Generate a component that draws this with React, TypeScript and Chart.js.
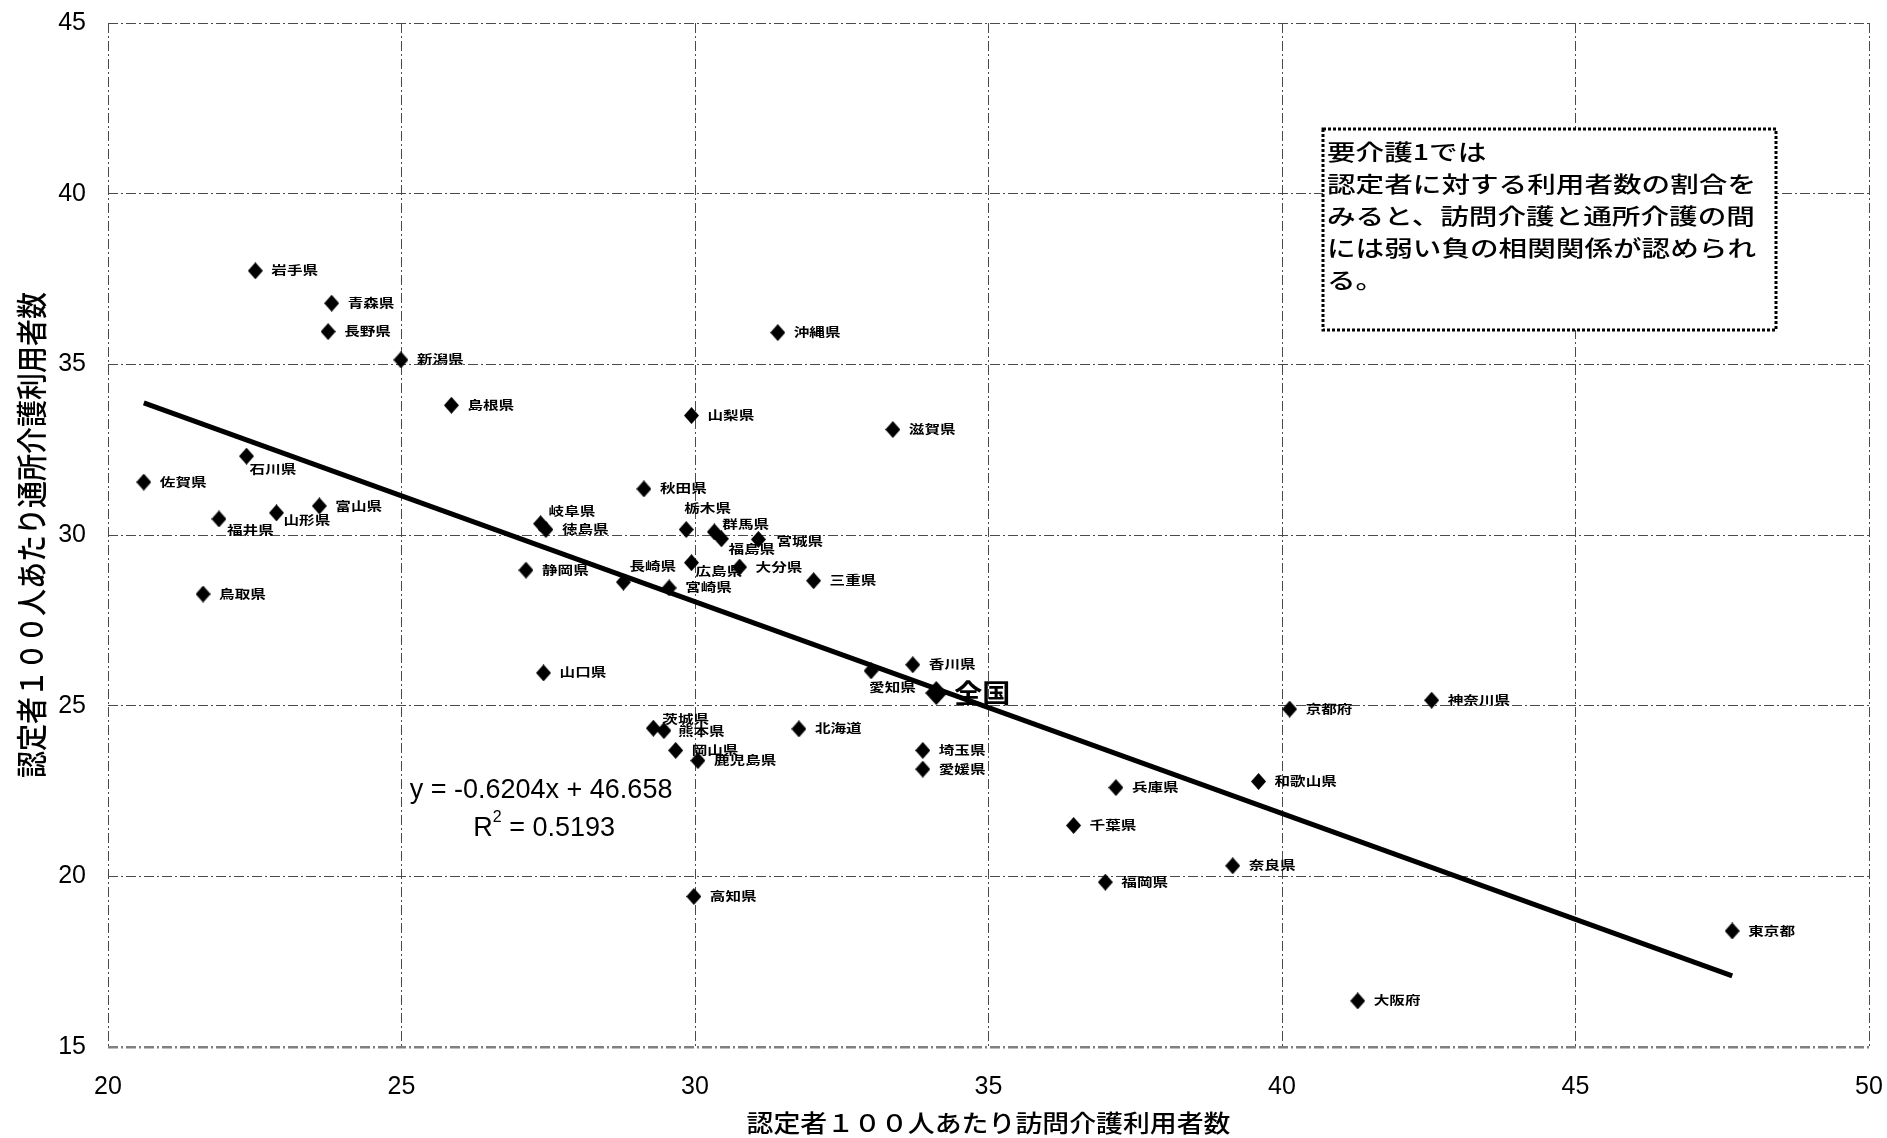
import { useEffect, useRef } from "react";
import { Chart, registerables } from "chart.js";

Chart.register(...registerables);

// Prefecture names with their per-100-certified user counts
const PREFECTURES = [
  "北海道", "青森県", "岩手県", "宮城県", "秋田県", "山形県", "福島県", "茨城県", "栃木県", "群馬県",
  "埼玉県", "千葉県", "東京都", "神奈川県", "新潟県", "富山県", "石川県", "福井県", "山梨県", "長野県",
  "岐阜県", "静岡県", "愛知県", "三重県", "滋賀県", "京都府", "大阪府", "兵庫県", "奈良県", "和歌山県",
  "鳥取県", "島根県", "岡山県", "広島県", "山口県", "徳島県", "香川県", "愛媛県", "高知県", "福岡県",
  "佐賀県", "長崎県", "熊本県", "大分県", "宮崎県", "鹿児島県", "沖縄県",
];

// 訪問介護利用者数 (per 100 certified persons)
const HOME_VISIT = [
  31.77, 23.81, 22.51, 31.08, 29.13, 22.87, 30.45, 29.29, 29.85, 30.33,
  33.88, 36.45, 47.67, 42.55, 24.99, 23.60, 22.36, 21.89, 29.94, 23.75,
  27.37, 27.12, 33.00, 32.02, 33.37, 40.13, 41.29, 37.17, 39.16, 39.60,
  21.62, 25.85, 29.67, 29.94, 27.42, 27.46, 33.71, 33.88, 29.98, 36.99,
  20.61, 28.78, 29.47, 30.76, 29.56, 30.05, 31.41,
];

// 通所介護利用者数 (per 100 certified persons)
const DAY_CARE = [
  24.32, 36.79, 37.74, 29.87, 31.35, 30.65, 29.89, 24.34, 30.16, 30.09,
  23.69, 21.49, 18.40, 25.16, 35.13, 30.85, 32.31, 30.47, 33.50, 35.96,
  30.33, 28.97, 26.02, 28.66, 33.09, 24.90, 16.35, 22.60, 20.31, 22.78,
  28.27, 33.80, 23.69, 29.19, 25.96, 30.16, 26.20, 23.14, 19.41, 19.83,
  31.55, 28.62, 24.27, 29.06, 28.45, 23.39, 35.93,
];

const NATIONAL_NAME = "全国";
const NATIONAL_HOME_VISIT = [34.11];
const NATIONAL_DAY_CARE = [25.37];

const X_TICKS = [20, 25, 30, 35, 40, 45, 50];
const Y_TICKS = [15, 20, 25, 30, 35, 40, 45];

const TREND_SLOPE = -0.6204;
const TREND_INTERCEPT = 46.658;
const R_SQUARED = "0.5193";

const X_TITLE = "認定者１００人あたり訪問介護利用者数";
const Y_TITLE = "認定者１００人あたり通所介護利用者数";

const NOTE_LINES = [
  "要介護1では",
  "認定者に対する利用者数の割合を",
  "みると、訪問介護と通所介護の間",
  "には弱い負の相関関係が認められ",
  "る。",
];

// label placement tweaks (pixels from the marker centre); default is to the right
const LABEL_OFFSETS: Record<string, [number, number]> = {
  "石川県": [3, 13],
  "山形県": [7, 8],
  "福井県": [8, 11],
  "岐阜県": [8, -12],
  "長崎県": [6, -16],
  "栃木県": [-2, -21],
  "群馬県": [8, -7],
  "福島県": [7, 11],
  "広島県": [4, 9],
  "愛知県": [-2, 17],
  "茨城県": [9, -9],
  "熊本県": [14, 1],
  "宮城県": [18, 2],
};

const JP = "'Noto Sans CJK JP', 'Noto Sans CJK SC', sans-serif";
const LATIN = "'Liberation Sans', Arial, sans-serif";

function diamond(w: number, h: number): HTMLCanvasElement {
  const c = document.createElement("canvas");
  c.width = w;
  c.height = h;
  const g = c.getContext("2d")!;
  g.fillStyle = "#000";
  g.beginPath();
  g.moveTo(w / 2, 0);
  g.lineTo(w, h / 2);
  g.lineTo(w / 2, h);
  g.lineTo(0, h / 2);
  g.closePath();
  g.fill();
  return c;
}

function drawText(
  ctx: CanvasRenderingContext2D,
  text: string,
  x: number,
  y: number,
  font: string,
  sx = 1,
  align: CanvasTextAlign = "left"
) {
  ctx.save();
  ctx.translate(x, y);
  ctx.scale(sx, 1);
  ctx.font = font;
  ctx.textAlign = align;
  ctx.textBaseline = "middle";
  ctx.fillStyle = "#000";
  ctx.fillText(text, 0, 0);
  ctx.restore();
}

const annotationPlugin = {
  id: "prefAnnotations",
  afterDatasetsDraw(chart: any) {
    const ctx: CanvasRenderingContext2D = chart.ctx;
    const xs = chart.scales.x;
    const ys = chart.scales.y;

    // prefecture labels
    const meta = chart.getDatasetMeta(1);
    meta.data.forEach((el: any, i: number) => {
      const name = PREFECTURES[i];
      const [dx, dy] = LABEL_OFFSETS[name] ?? [16, 0];
      drawText(ctx, name, el.x + dx, el.y + dy, `bold 12px ${JP}`, 1.3);
    });

    // national average label
    const nat = chart.getDatasetMeta(2).data[0];
    if (nat) drawText(ctx, NATIONAL_NAME, nat.x + 18, nat.y, `bold 26px ${JP}`, 1.08);

    // regression equation
    const eqX = xs.getPixelForValue(25.14);
    const eqY = ys.getPixelForValue(22.51);
    const sign = TREND_SLOPE < 0 ? "-" : "+";
    drawText(
      ctx,
      `y = ${sign}${Math.abs(TREND_SLOPE)}x + ${TREND_INTERCEPT}`,
      eqX,
      eqY,
      `27px ${LATIN}`
    );

    // R squared, centred below the equation
    const rcx = xs.getPixelForValue(27.43);
    const rcy = ys.getPixelForValue(21.39);
    ctx.save();
    ctx.font = `27px ${LATIN}`;
    const wR = ctx.measureText("R").width;
    const wRest = ctx.measureText(` = ${R_SQUARED}`).width;
    ctx.font = `16px ${LATIN}`;
    const w2 = ctx.measureText("2").width;
    ctx.restore();
    const startX = rcx - (wR + w2 + wRest) / 2;
    drawText(ctx, "R", startX, rcy, `27px ${LATIN}`);
    drawText(ctx, "2", startX + wR, rcy - 11, `16px ${LATIN}`);
    drawText(ctx, ` = ${R_SQUARED}`, startX + wR + w2, rcy, `27px ${LATIN}`);

    // note box
    const bx0 = Math.round(xs.getPixelForValue(40.7));
    const bx1 = Math.round(xs.getPixelForValue(48.42));
    const by0 = Math.round(ys.getPixelForValue(41.88));
    const by1 = Math.round(ys.getPixelForValue(36.0));
    ctx.save();
    ctx.fillStyle = "#fff";
    ctx.fillRect(bx0, by0, bx1 - bx0, by1 - by0);
    ctx.strokeStyle = "#000";
    ctx.lineWidth = 3;
    ctx.setLineDash([3, 2]);
    ctx.strokeRect(bx0, by0, bx1 - bx0, by1 - by0);
    ctx.restore();
    NOTE_LINES.forEach((line, i) => {
      drawText(ctx, line, bx0 + 4, by0 + 23 + i * 32, `500 22px ${JP}`, 1.3);
    });
  },
  afterDraw(chart: any) {
    const ctx: CanvasRenderingContext2D = chart.ctx;
    const area = chart.chartArea;
    // x axis title
    drawText(ctx, X_TITLE, (area.left + area.right) / 2, 1123, `500 24px ${JP}`, 1.12, "center");
    // y axis title (rotated)
    ctx.save();
    ctx.translate(31, (area.top + area.bottom) / 2);
    ctx.rotate(-Math.PI / 2);
    ctx.scale(1, 1.15);
    ctx.font = `500 27px ${JP}`;
    ctx.textAlign = "center";
    ctx.textBaseline = "middle";
    ctx.fillStyle = "#000";
    ctx.fillText(Y_TITLE, 0, 0);
    ctx.restore();
  },
};

export default function App() {
  const canvasRef = useRef<HTMLCanvasElement | null>(null);

  useEffect(() => {
    const canvas = canvasRef.current;
    if (!canvas) return;

    const xMin = Math.min(...HOME_VISIT);
    const xMax = Math.max(...HOME_VISIT);
    const trend = [
      { x: xMin, y: TREND_SLOPE * xMin + TREND_INTERCEPT },
      { x: xMax, y: TREND_SLOPE * xMax + TREND_INTERCEPT },
    ];

    const prefPoints = PREFECTURES.map((_, i) => ({ x: HOME_VISIT[i], y: DAY_CARE[i] }));
    const natPoints = NATIONAL_HOME_VISIT.map((x, i) => ({ x, y: NATIONAL_DAY_CARE[i] }));

    const tickFont = { family: LATIN, size: 25 };
    const gridColor = (c: any) => (c.tick && c.tick.value === 15 ? "#808080" : "#4a4a4a");
    const gridWidth = (c: any) => (c.tick && c.tick.value === 15 ? 2.5 : 1);

    const chart = new Chart(canvas, {
      type: "scatter",
      data: {
        datasets: [
          {
            type: "line",
            label: "trend",
            data: trend,
            borderColor: "#000",
            borderWidth: 5,
            pointRadius: 0,
            fill: false,
            order: 0,
          },
          {
            label: "prefectures",
            data: prefPoints,
            pointStyle: diamond(15, 17) as any,
            backgroundColor: "#000",
            borderColor: "#000",
            order: 1,
          },
          {
            label: "national",
            data: natPoints,
            pointStyle: diamond(22, 24) as any,
            backgroundColor: "#000",
            borderColor: "#000",
            order: 1,
          },
        ],
      },
      options: {
        responsive: false,
        animation: false,
        events: [],
        layout: { autoPadding: false, padding: { left: 0, top: 23, right: 18, bottom: 0 } },
        plugins: {
          legend: { display: false },
          tooltip: { enabled: false },
          title: { display: false },
        },
        scales: {
          x: {
            type: "linear",
            min: 20,
            max: 50,
            afterBuildTicks: (s: any) => {
              s.ticks = X_TICKS.map((v) => ({ value: v }));
            },
            afterFit: (s: any) => {
              s.height = 91;
              s.paddingLeft = 0;
              s.paddingRight = 0;
              s.paddingTop = 0;
              s.paddingBottom = 0;
            },
            ticks: { padding: 25, font: tickFont, color: "#000", maxRotation: 0 },
            grid: { color: gridColor, lineWidth: 1, drawTicks: false },
            border: { display: false, dash: [10, 3, 2, 3] },
          },
          y: {
            type: "linear",
            min: 15,
            max: 45,
            afterBuildTicks: (s: any) => {
              s.ticks = Y_TICKS.map((v) => ({ value: v }));
            },
            afterFit: (s: any) => {
              s.width = 108;
              s.paddingLeft = 0;
              s.paddingRight = 0;
              s.paddingTop = 0;
              s.paddingBottom = 0;
            },
            ticks: { padding: 22, font: tickFont, color: "#000" },
            grid: { color: gridColor, lineWidth: gridWidth, drawTicks: false },
            border: { display: false, dash: [10, 3, 2, 3] },
          },
        },
      } as any,
      plugins: [annotationPlugin],
    });

    return () => chart.destroy();
  }, []);

  return (
    <div
      style={{
        position: "fixed",
        left: 0,
        top: 0,
        width: 1887,
        height: 1138,
        background: "#fff",
      }}
    >
      <canvas ref={canvasRef} width={1887} height={1138} style={{ display: "block" }} />
    </div>
  );
}
